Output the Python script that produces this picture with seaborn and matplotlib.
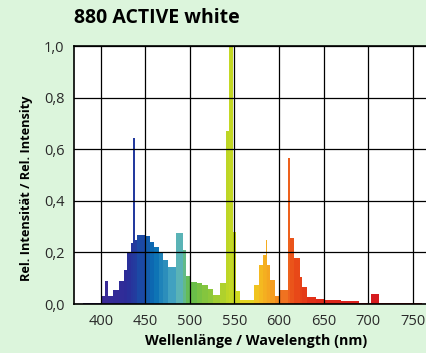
import numpy as np
import matplotlib
matplotlib.use("Agg")
import matplotlib.pyplot as plt
from matplotlib.colors import LinearSegmentedColormap
import seaborn as sns

# spectrum: bin edges (nm) and relative intensity per bin
bin_edges = [380, 400, 405, 408, 414, 420, 426, 430, 434, 436, 438, 441, 450,
             455, 460, 465, 470, 476, 484, 492, 496, 501, 508, 514, 520, 526,
             534, 540, 544, 548, 552, 556, 572, 578, 582, 585, 587, 590, 596,
             600, 610, 612, 617, 623, 626, 631, 642, 652, 670, 690, 703, 712,
             760]
intensity = [0.005, 0.03, 0.09, 0.03, 0.055, 0.09, 0.13, 0.20, 0.235, 0.645,
             0.25, 0.267, 0.262, 0.24, 0.222, 0.197, 0.17, 0.145, 0.275, 0.21,
             0.11, 0.085, 0.08, 0.075, 0.06, 0.035, 0.08, 0.67, 1.0, 0.28,
             0.05, 0.015, 0.075, 0.15, 0.19, 0.248, 0.15, 0.093, 0.03, 0.055,
             0.566, 0.255, 0.18, 0.105, 0.066, 0.028, 0.02, 0.014, 0.01, 0.004,
             0.04, 0.003]

x_ticks = [400, 450, 500, 550, 600, 650, 700, 750]
y_ticks = [0.0, 0.2, 0.4, 0.6, 0.8, 1.0]
y_labels = ["0,0", "0,2", "0,4", "0,6", "0,8", "1,0"]

# spectral colours along the wavelength axis
spec_nm = [380, 400, 430, 445, 460, 480, 490, 500, 520, 540, 550, 570, 580,
           595, 605, 620, 640, 700, 760]
spec_col = ["#5a3a9a", "#3c2a96", "#2c2c98", "#1a4aa5", "#0a70b4", "#40a0c0",
            "#60b8b4", "#64bc4c", "#88c63c", "#b8d428", "#ccdc20", "#ecd020",
            "#f4b820", "#f49a20", "#f07020", "#e84818", "#e02c18", "#d81c20",
            "#c81818"]

lo, hi = 370, 766
stops = [((n - lo) / (hi - lo), c) for n, c in zip(spec_nm, spec_col)]
stops = [(0.0, spec_col[0])] + stops + [(1.0, spec_col[-1])]
cmap = LinearSegmentedColormap.from_list("spectrum", stops)

bg = "#dcf5dc"
fig = plt.figure(figsize=(4.27, 3.53), dpi=100, facecolor=bg)
ax = fig.add_axes([74 / 427, 1 - 304 / 353, 1 - 74 / 427, 258 / 353])
ax.set_facecolor("white")

centers = [(a + b) / 2 for a, b in zip(bin_edges[:-1], bin_edges[1:])]
sns.histplot(x=centers, weights=intensity, bins=bin_edges, ax=ax,
             stat="count", linewidth=0, alpha=1, zorder=1)
for p in ax.patches:
    c = p.get_x() + p.get_width() / 2
    p.set_facecolor(cmap((c - lo) / (hi - lo)))
    p.set_edgecolor("none")

ax.set_xlim(lo, hi)
ax.set_ylim(0, 1.0)
ax.set_xticks(x_ticks)
ax.set_xticklabels([str(t) for t in x_ticks])
ax.set_yticks(y_ticks)
ax.set_yticklabels(y_labels)
ax.grid(True, color="black", linewidth=0.9)
ax.set_axisbelow(False)
ax.tick_params(length=0, labelsize=10.5, pad=7, colors="#2a2a2a")
for s in ["left", "bottom", "top"]:
    ax.spines[s].set_color("black")
    ax.spines[s].set_linewidth(1.2)
ax.spines["right"].set_visible(False)

for lab in ax.get_xticklabels() + ax.get_yticklabels():
    lab.set_fontfamily("Open Sans")

ax.set_xlabel("Wellenlänge / Wavelength (nm)", fontsize=10.3,
              fontweight="bold", fontfamily="Open Sans")
ax.xaxis.set_label_coords(0.517, -0.117)
ax.set_ylabel("Rel. Intensität / Rel. Intensity", fontsize=9.2,
              fontweight="bold", fontfamily="Open Sans")
ax.yaxis.set_label_coords(-0.116, 0.45)

fig.text(74 / 427, 1 - 18 / 353, "880 ACTIVE white", fontsize=14,
         fontweight="bold", fontfamily="Open Sans", va="center", ha="left")

fig.savefig("out.png", dpi=100, facecolor=bg)
